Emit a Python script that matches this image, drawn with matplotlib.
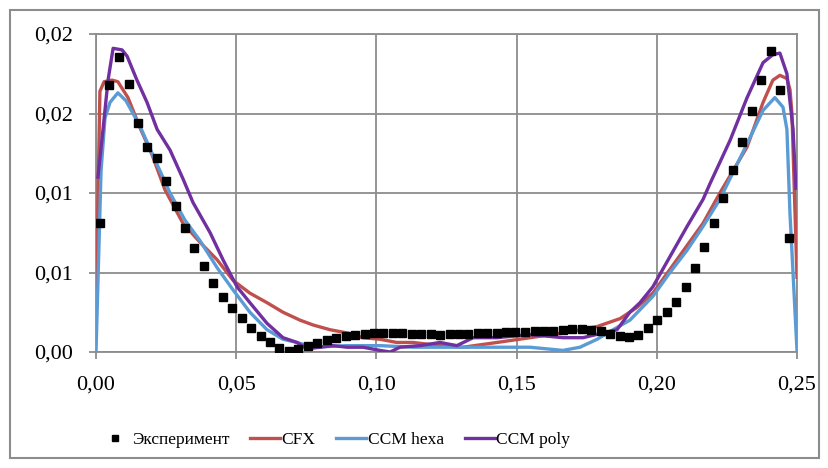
import matplotlib
matplotlib.use("Agg")
import matplotlib.pyplot as plt
from matplotlib.patches import Rectangle
from matplotlib.ticker import FuncFormatter
from decimal import Decimal, ROUND_HALF_UP

plt.rcParams['font.family'] = ['Liberation Serif', 'DejaVu Serif']

# Эксперимент
exp_x = [0.0014, 0.0048, 0.0082, 0.0116, 0.0149, 0.0183, 0.0216, 0.0250, 0.0284, 0.0317,
         0.0351, 0.0385, 0.0419, 0.0452, 0.0486, 0.0520, 0.0553, 0.0587, 0.0621, 0.0654,
         0.0688, 0.0722, 0.0756, 0.0789, 0.0823, 0.0857, 0.0890, 0.0924, 0.0958, 0.0991,
         0.1025, 0.1059, 0.1092, 0.1126, 0.1160, 0.1193, 0.1227, 0.1261, 0.1294, 0.1328,
         0.1362, 0.1395, 0.1429, 0.1463, 0.1496, 0.1530, 0.1564, 0.1597, 0.1631, 0.1665,
         0.1699, 0.1732, 0.1766, 0.1800, 0.1833, 0.1867, 0.1901, 0.1934, 0.1968, 0.2002,
         0.2035, 0.2069, 0.2103, 0.2136, 0.2170, 0.2204, 0.2237, 0.2271, 0.2305, 0.2338,
         0.2372, 0.2406, 0.2439, 0.2473]
exp_y = [0.00811, 0.01679, 0.01855, 0.01686, 0.01440, 0.01289, 0.01220, 0.01075, 0.00918, 0.00780,
         0.00654, 0.00541, 0.00434, 0.00346, 0.00277, 0.00214, 0.00151, 0.00101, 0.00063, 0.00025,
         0.00006, 0.00019, 0.00038, 0.00057, 0.00075, 0.00088, 0.00101, 0.00107, 0.00113, 0.00119,
         0.00119, 0.00119, 0.00119, 0.00113, 0.00113, 0.00113, 0.00107, 0.00113, 0.00113, 0.00113,
         0.00119, 0.00119, 0.00119, 0.00126, 0.00126, 0.00126, 0.00132, 0.00132, 0.00132, 0.00138,
         0.00145, 0.00145, 0.00138, 0.00132, 0.00113, 0.00101, 0.00094, 0.00107, 0.00151, 0.00201,
         0.00252, 0.00314, 0.00409, 0.00528, 0.00660, 0.00811, 0.00969, 0.01145, 0.01321, 0.01516,
         0.01711, 0.01893, 0.01648, 0.00717]

# CFX
cfx_x = [0.0000, 0.0014, 0.0029, 0.0057, 0.0078, 0.0114, 0.0157, 0.0200, 0.0246, 0.0310,
         0.0371, 0.0432, 0.0489, 0.0549, 0.0610, 0.0667, 0.0728, 0.0774, 0.0835, 0.0895,
         0.0952, 0.1013, 0.1073, 0.1131, 0.1227, 0.1309, 0.1430, 0.1548, 0.1665, 0.1787,
         0.1869, 0.1929, 0.1986, 0.2047, 0.2108, 0.2165, 0.2225, 0.2322, 0.2379, 0.2414,
         0.2439, 0.2464, 0.2475, 0.2482, 0.2500]
cfx_y = [0.0030, 0.0164, 0.0170, 0.0171, 0.0170, 0.0160, 0.0141, 0.0124, 0.0102, 0.0081,
         0.0069, 0.0058, 0.0045, 0.0037, 0.0031, 0.0025, 0.0020, 0.0017, 0.0014, 0.0012,
         0.0009, 0.0008, 0.0006, 0.0006, 0.0004, 0.0003, 0.0006, 0.0009, 0.0012, 0.0016,
         0.0021, 0.0028, 0.0037, 0.0052, 0.0067, 0.0081, 0.0100, 0.0129, 0.0157, 0.0171,
         0.0174, 0.0172, 0.0165, 0.0150, 0.0047]

# CCM hexa
hexa_x = [0.0000, 0.0018, 0.0032, 0.0050, 0.0078, 0.0107, 0.0157, 0.0210, 0.0264, 0.0317,
          0.0371, 0.0432, 0.0489, 0.0549, 0.0610, 0.0667, 0.0717, 0.0774, 0.0895, 0.1013,
          0.1131, 0.1227, 0.1430, 0.1548, 0.1665, 0.1726, 0.1787, 0.1844, 0.1904, 0.1986,
          0.2047, 0.2108, 0.2165, 0.2225, 0.2322, 0.2379, 0.2421, 0.2450, 0.2464, 0.2475,
          0.2500]
hexa_y = [0.0000, 0.0114, 0.0147, 0.0157, 0.0163, 0.0158, 0.0142, 0.0121, 0.0100, 0.0083,
          0.0070, 0.0053, 0.0039, 0.0025, 0.0014, 0.0008, 0.0006, 0.0003, 0.0004, 0.0004,
          0.0003, 0.0003, 0.0003, 0.0003, 0.0001, 0.0003, 0.0008, 0.0014, 0.0020, 0.0035,
          0.0050, 0.0064, 0.0079, 0.0096, 0.0131, 0.0152, 0.0160, 0.0154, 0.0140, 0.0087,
          0.0001]

# CCM poly
poly_x = [0.0007, 0.0025, 0.0043, 0.0061, 0.0093, 0.0111, 0.0146, 0.0182, 0.0218, 0.0264,
          0.0310, 0.0346, 0.0407, 0.0453, 0.0503, 0.0549, 0.0610, 0.0667, 0.0717, 0.0752,
          0.0799, 0.0845, 0.0895, 0.0952, 0.1013, 0.1049, 0.1084, 0.1155, 0.1227, 0.1287,
          0.1345, 0.1430, 0.1548, 0.1665, 0.1737, 0.1808, 0.1858, 0.1904, 0.1940, 0.1986,
          0.2047, 0.2108, 0.2165, 0.2190, 0.2261, 0.2322, 0.2379, 0.2414, 0.2439, 0.2464,
          0.2486, 0.2496]
poly_y = [0.0110, 0.0140, 0.0171, 0.0191, 0.0190, 0.0186, 0.0171, 0.0157, 0.0140, 0.0127,
          0.0109, 0.0094, 0.0075, 0.0058, 0.0041, 0.0031, 0.0018, 0.0009, 0.0006, 0.0002,
          0.0003, 0.0004, 0.0003, 0.0003, 0.0001, 0.0000, 0.0003, 0.0004, 0.0006, 0.0004,
          0.0009, 0.0009, 0.0011, 0.0009, 0.0009, 0.0012, 0.0014, 0.0025, 0.0031, 0.0041,
          0.0060, 0.0079, 0.0096, 0.0106, 0.0133, 0.0160, 0.0182, 0.0187, 0.0188, 0.0175,
          0.0140, 0.0103]

x_ticks = [0.0, 0.05, 0.10, 0.15, 0.20, 0.25]
y_ticks = [0.0, 0.005, 0.010, 0.015, 0.020]


def fmt(v, p):
    # как в Excel: округление 0,005 -> 0,01
    d = Decimal(str(round(v, 6))).quantize(Decimal('0.01'), rounding=ROUND_HALF_UP)
    return f"{d:.2f}".replace('.', ',')


fig = plt.figure(figsize=(8.29, 4.68), dpi=100)
fig.patches.append(Rectangle((10 / 829, 10 / 468), 809 / 829, 448 / 468,
                             transform=fig.transFigure, fill=False,
                             edgecolor='#8c8c8c', linewidth=1.5))
ax = fig.add_axes([96 / 829, 1 - 352 / 468, 701 / 829, 318 / 468])

grid_c = '#8c8c8c'
ax.plot(cfx_x, cfx_y, color='#C0504D', lw=2.4, label='CFX', zorder=3)
ax.plot(hexa_x, hexa_y, color='#5B9BD5', lw=2.4, label='CCM hexa', zorder=4)
ax.plot(poly_x, poly_y, color='#7030A0', lw=2.4, label='CCM poly', zorder=5)
ax.plot(exp_x, exp_y, ls='none', marker='s', ms=6.3, color='black',
        label='Эксперимент', zorder=6)

ax.set_xlim(0, 0.25)
ax.set_ylim(0, 0.02)
ax.set_xticks(x_ticks)
ax.set_yticks(y_ticks)
ax.xaxis.set_major_formatter(FuncFormatter(fmt))
ax.yaxis.set_major_formatter(FuncFormatter(fmt))
ax.grid(True, color=grid_c, lw=1.3)
ax.set_axisbelow(True)
for s in ax.spines.values():
    s.set_color(grid_c)
    s.set_linewidth(1.3)
ax.tick_params(colors=grid_c, labelcolor='black', labelsize=16, length=5, width=1.3)
ax.tick_params(axis='x', pad=12)
ax.tick_params(axis='y', pad=11.5)

handles, labels = ax.get_legend_handles_labels()
order = [3, 0, 1, 2]
leg = fig.legend([handles[i] for i in order], [labels[i] for i in order],
                 loc='center left', bbox_to_anchor=(100 / 829, 1 - 440 / 468),
                 ncol=4, frameon=False, fontsize=12.5, handlelength=1.72,
                 handletextpad=0.1, columnspacing=1.2, markerscale=0.7,
                 borderpad=0, borderaxespad=0)

fig.savefig('out.png', dpi=100)
